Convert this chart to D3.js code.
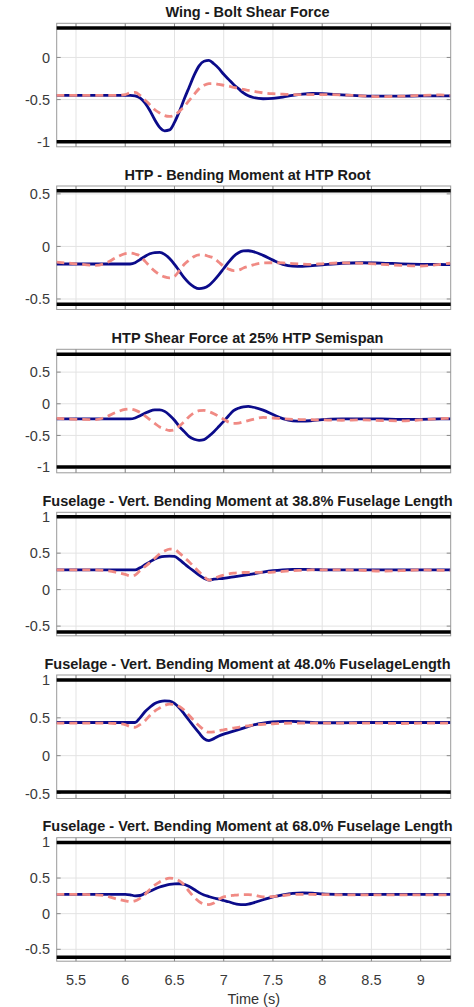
<!DOCTYPE html>
<html>
<head>
<meta charset="utf-8">
<script src="https://cdn.jsdelivr.net/npm/d3@7"></script>
<style>
  html, body { margin: 0; padding: 0; background: #fff; }
  svg { display: block; font-family: "Liberation Sans", Arial, Helvetica, sans-serif; }
</style>
</head>
<body>
<svg id="chart" width="474" height="1007"></svg>
<script>
// Sample times (s) shared by every series
const time = [5.3, 5.5, 5.7, 5.8, 5.9, 6.0, 6.05, 6.1, 6.15, 6.2, 6.25, 6.3, 6.35, 6.4, 6.45, 6.5,
  6.55, 6.6, 6.65, 6.7, 6.75, 6.8, 6.85, 6.9, 6.95, 7.0, 7.05, 7.1, 7.15, 7.2, 7.25, 7.3,
  7.4, 7.5, 7.6, 7.7, 7.8, 7.9, 8.0, 8.2, 8.4, 8.6, 8.8, 9.0, 9.2, 9.3];

const titles = [
  "Wing - Bolt Shear Force",
  "HTP - Bending Moment at HTP Root",
  "HTP Shear Force at 25% HTP Semispan",
  "Fuselage - Vert. Bending Moment at 38.8% Fuselage Length",
  "Fuselage - Vert. Bending Moment at 48.0% FuselageLength",
  "Fuselage - Vert. Bending Moment at 68.0% Fuselage Length"
];

// Solid (dark blue) series
const wingBoltSolid = [-0.45, -0.45, -0.45, -0.45, -0.45, -0.45, -0.45, -0.455, -0.48, -0.54, -0.63, -0.74, -0.83, -0.87, -0.86, -0.77,
  -0.64, -0.49, -0.35, -0.21, -0.10, -0.045, -0.035, -0.075, -0.13, -0.20, -0.26, -0.32, -0.37, -0.42, -0.455, -0.475,
  -0.49, -0.485, -0.47, -0.45, -0.435, -0.428, -0.43, -0.445, -0.455, -0.46, -0.46, -0.455, -0.455, -0.455];
const htpRootSolid = [-0.167, -0.167, -0.167, -0.167, -0.167, -0.167, -0.167, -0.155, -0.125, -0.095, -0.07, -0.058, -0.057, -0.075, -0.115, -0.17,
  -0.235, -0.30, -0.35, -0.385, -0.402, -0.395, -0.37, -0.325, -0.27, -0.21, -0.15, -0.095, -0.06, -0.043, -0.041, -0.05,
  -0.085, -0.13, -0.17, -0.188, -0.19, -0.183, -0.175, -0.16, -0.155, -0.158, -0.165, -0.17, -0.172, -0.173];
const htpShearSolid = [-0.24, -0.24, -0.24, -0.24, -0.24, -0.24, -0.24, -0.225, -0.19, -0.15, -0.115, -0.097, -0.095, -0.12, -0.18, -0.26,
  -0.36, -0.44, -0.52, -0.56, -0.577, -0.565, -0.51, -0.44, -0.36, -0.278, -0.19, -0.11, -0.07, -0.048, -0.042, -0.055,
  -0.10, -0.17, -0.235, -0.27, -0.275, -0.265, -0.25, -0.24, -0.238, -0.24, -0.245, -0.245, -0.24, -0.24];
const fus388Solid = [0.27, 0.27, 0.27, 0.27, 0.27, 0.27, 0.27, 0.27, 0.30, 0.34, 0.38, 0.42, 0.445, 0.455, 0.458, 0.455,
  0.41, 0.355, 0.30, 0.25, 0.20, 0.155, 0.13, 0.145, 0.15, 0.155, 0.165, 0.175, 0.185, 0.195, 0.205, 0.215,
  0.24, 0.26, 0.272, 0.278, 0.278, 0.275, 0.272, 0.27, 0.27, 0.27, 0.27, 0.27, 0.27, 0.27];
const fus480Solid = [0.438, 0.438, 0.438, 0.438, 0.438, 0.438, 0.438, 0.438, 0.50, 0.58, 0.64, 0.69, 0.715, 0.724, 0.72, 0.69,
  0.63, 0.55, 0.465, 0.38, 0.30, 0.225, 0.20, 0.225, 0.26, 0.285, 0.305, 0.325, 0.345, 0.365, 0.385, 0.405,
  0.43, 0.445, 0.452, 0.452, 0.445, 0.44, 0.435, 0.435, 0.438, 0.438, 0.438, 0.438, 0.438, 0.438];
const fus680Solid = [0.272, 0.272, 0.272, 0.272, 0.272, 0.272, 0.265, 0.25, 0.255, 0.285, 0.315, 0.345, 0.375, 0.395, 0.41, 0.418,
  0.42, 0.412, 0.38, 0.34, 0.295, 0.262, 0.24, 0.22, 0.205, 0.185, 0.167, 0.145, 0.13, 0.127, 0.135, 0.152,
  0.195, 0.235, 0.265, 0.285, 0.29, 0.288, 0.278, 0.27, 0.268, 0.27, 0.27, 0.27, 0.27, 0.27];

// Dashed (light red) series
const wingBoltDashed = [-0.45, -0.45, -0.45, -0.45, -0.45, -0.44, -0.42, -0.415, -0.45, -0.505, -0.56, -0.62, -0.66, -0.69, -0.70, -0.685,
  -0.64, -0.58, -0.51, -0.44, -0.37, -0.33, -0.31, -0.31, -0.32, -0.33, -0.34, -0.355, -0.365, -0.38, -0.39, -0.40,
  -0.42, -0.43, -0.435, -0.44, -0.44, -0.44, -0.44, -0.445, -0.455, -0.465, -0.46, -0.45, -0.445, -0.45];
const htpRootDashed = [-0.15, -0.165, -0.18, -0.16, -0.11, -0.068, -0.063, -0.072, -0.09, -0.14, -0.19, -0.235, -0.268, -0.29, -0.30, -0.285,
  -0.23, -0.17, -0.13, -0.095, -0.08, -0.082, -0.095, -0.11, -0.15, -0.19, -0.215, -0.23, -0.225, -0.205, -0.19, -0.175,
  -0.157, -0.155, -0.157, -0.163, -0.168, -0.17, -0.165, -0.157, -0.16, -0.17, -0.18, -0.186, -0.17, -0.16];
const htpShearDashed = [-0.23, -0.245, -0.25, -0.21, -0.14, -0.09, -0.084, -0.10, -0.136, -0.19, -0.25, -0.31, -0.367, -0.40, -0.422, -0.41,
  -0.35, -0.28, -0.20, -0.14, -0.11, -0.105, -0.125, -0.157, -0.20, -0.245, -0.29, -0.31, -0.305, -0.285, -0.265, -0.245,
  -0.215, -0.225, -0.236, -0.245, -0.25, -0.252, -0.255, -0.26, -0.255, -0.265, -0.27, -0.255, -0.235, -0.23];
const fus388Dashed = [0.27, 0.27, 0.27, 0.26, 0.24, 0.21, 0.19, 0.20, 0.26, 0.315, 0.37, 0.43, 0.49, 0.53, 0.555, 0.55,
  0.50, 0.44, 0.38, 0.31, 0.245, 0.18, 0.13, 0.15, 0.18, 0.20, 0.215, 0.225, 0.23, 0.235, 0.236, 0.236,
  0.236, 0.24, 0.25, 0.26, 0.265, 0.27, 0.27, 0.27, 0.265, 0.255, 0.26, 0.27, 0.265, 0.26];
const fus480Dashed = [0.43, 0.43, 0.43, 0.43, 0.425, 0.41, 0.385, 0.375, 0.41, 0.46, 0.53, 0.59, 0.63, 0.665, 0.68, 0.675,
  0.65, 0.60, 0.53, 0.46, 0.395, 0.34, 0.31, 0.315, 0.33, 0.342, 0.355, 0.365, 0.375, 0.386, 0.395, 0.403,
  0.415, 0.422, 0.428, 0.43, 0.43, 0.43, 0.43, 0.43, 0.43, 0.43, 0.425, 0.43, 0.43, 0.43];
const fus680Dashed = [0.27, 0.27, 0.265, 0.25, 0.21, 0.18, 0.17, 0.18, 0.215, 0.27, 0.34, 0.40, 0.445, 0.48, 0.50, 0.49,
  0.46, 0.40, 0.31, 0.23, 0.17, 0.135, 0.128, 0.15, 0.20, 0.235, 0.25, 0.258, 0.265, 0.268, 0.268, 0.262,
  0.235, 0.24, 0.255, 0.268, 0.272, 0.27, 0.268, 0.265, 0.265, 0.265, 0.265, 0.265, 0.265, 0.265];

// Allowable envelope per panel (thick black lines)
const upperLimit = [0.35, 0.53, 0.78, 1.0, 1.0, 1.0];
const lowerLimit = [-1.0, -0.55, -1.0, -0.58, -0.48, -0.61];

// Y-axis ranges and ticks per panel
const yMin = [-1.06, -0.60, -1.09, -0.633, -0.566, -0.667];
const yMax = [0.405, 0.575, 0.86, 1.06, 1.066, 1.066];
const yTicks = [[-1, -0.5, 0], [-0.5, 0, 0.5], [-1, -0.5, 0, 0.5], [-0.5, 0, 0.5, 1], [-0.5, 0, 0.5, 1], [-0.5, 0, 0.5, 1]];

const xDomain = [5.304, 9.305];
const xTicks = [5.5, 6, 6.5, 7, 7.5, 8, 8.5, 9];

const solidSeries = [wingBoltSolid, htpRootSolid, htpShearSolid, fus388Solid, fus480Solid, fus680Solid];
const dashedSeries = [wingBoltDashed, htpRootDashed, htpShearDashed, fus388Dashed, fus480Dashed, fus680Dashed];

// Layout
const plotLeft = 56.7, plotRight = 450.7;
const panelTops = [23.3, 186, 349.3, 512.3, 675, 837.7];
const panelHeight = 123.5;
const tickLen = 4;

const svg = d3.select("#chart");
svg.append("rect").attr("width", 474).attr("height", 1007).attr("fill", "#fff");

const x = d3.scaleLinear().domain(xDomain).range([plotLeft, plotRight]);
const fmt = d => (d === 0 ? "0" : String(d));

titles.forEach((title, i) => {
  const top = panelTops[i], bottom = top + panelHeight;
  const y = d3.scaleLinear().domain([yMin[i], yMax[i]]).range([bottom, top]);
  const g = svg.append("g");

  // grid
  g.append("g").selectAll("line").data(xTicks).join("line")
    .attr("x1", d => x(d)).attr("x2", d => x(d)).attr("y1", top).attr("y2", bottom)
    .attr("stroke", "#e3e3e3").attr("stroke-width", 1);
  g.append("g").selectAll("line").data(yTicks[i]).join("line")
    .attr("x1", plotLeft).attr("x2", plotRight).attr("y1", d => y(d)).attr("y2", d => y(d))
    .attr("stroke", "#e3e3e3").attr("stroke-width", 1);

  // box
  g.append("rect").attr("x", plotLeft).attr("y", top)
    .attr("width", plotRight - plotLeft).attr("height", panelHeight)
    .attr("fill", "none").attr("stroke", "#9a9a9a").attr("stroke-width", 1);

  // inward tick marks on all four sides
  const tickG = g.append("g").attr("stroke", "#8a8a8a").attr("stroke-width", 1);
  xTicks.forEach(t => {
    tickG.append("line").attr("x1", x(t)).attr("x2", x(t)).attr("y1", bottom).attr("y2", bottom - tickLen);
    tickG.append("line").attr("x1", x(t)).attr("x2", x(t)).attr("y1", top).attr("y2", top + tickLen);
  });
  yTicks[i].forEach(t => {
    tickG.append("line").attr("x1", plotLeft).attr("x2", plotLeft + tickLen).attr("y1", y(t)).attr("y2", y(t));
    tickG.append("line").attr("x1", plotRight).attr("x2", plotRight - tickLen).attr("y1", y(t)).attr("y2", y(t));
  });

  // y tick labels
  g.append("g").selectAll("text").data(yTicks[i]).join("text")
    .attr("x", 50).attr("y", d => y(d)).attr("dy", "0.35em")
    .attr("text-anchor", "end").attr("font-size", "14.5px").attr("fill", "#3a3a3a")
    .text(fmt);

  // envelope lines
  [upperLimit[i], lowerLimit[i]].forEach(v => {
    g.append("line").attr("x1", plotLeft).attr("x2", plotRight)
      .attr("y1", y(v)).attr("y2", y(v))
      .attr("stroke", "#000").attr("stroke-width", 3.5);
  });

  const line = d3.line().x((d, k) => x(time[k])).y(d => y(d)).curve(d3.curveMonotoneX);

  const clipId = "clip" + i;
  svg.append("clipPath").attr("id", clipId).append("rect")
    .attr("x", plotLeft).attr("y", top).attr("width", plotRight - plotLeft).attr("height", panelHeight);

  g.append("path").datum(solidSeries[i]).attr("d", line)
    .attr("clip-path", `url(#${clipId})`)
    .attr("fill", "none").attr("stroke", "#0b0b8a").attr("stroke-width", 2.8)
    .attr("stroke-linejoin", "round");
  g.append("path").datum(dashedSeries[i]).attr("d", line)
    .attr("clip-path", `url(#${clipId})`)
    .attr("fill", "none").attr("stroke", "#f08a84").attr("stroke-width", 2.8)
    .attr("stroke-dasharray", "8,5");

  // title
  svg.append("text").attr("x", 247.5).attr("y", top - 6.5)
    .attr("text-anchor", "middle").attr("font-size", "14.5px").attr("font-weight", "bold")
    .attr("fill", "#1a1a1a").text(title);

  // x tick labels on bottom panel only
  if (i === titles.length - 1) {
    g.append("g").selectAll("text").data(xTicks).join("text")
      .attr("x", d => x(d)).attr("y", 984.5)
      .attr("text-anchor", "middle").attr("font-size", "14.5px").attr("fill", "#3a3a3a")
      .text(fmt);
  }
});

svg.append("text").attr("x", (plotLeft + plotRight) / 2).attr("y", 1003.5)
  .attr("text-anchor", "middle").attr("font-size", "14.5px").attr("fill", "#333")
  .text("Time (s)");
</script>
</body>
</html>
